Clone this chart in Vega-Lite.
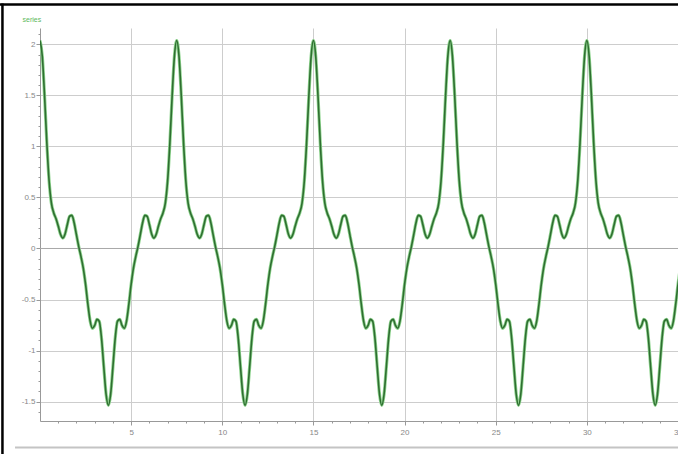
{
  "$schema": "https://vega.github.io/schema/vega-lite/v6.json",
  "width": 638,
  "height": 393,
  "autosize": {"type": "none"},
  "padding": {"left": 40, "top": 28, "right": 0, "bottom": 33},
  "background": "white",
  "config": {"view": {"stroke": null}, "font": "Liberation Sans"},
  "datasets": {
    "curve": [
      {"t":0,"v":2.037},{"t":0.125,"v":1.885},{"t":0.25,"v":1.496},{"t":0.375,"v":1.035},{"t":0.5,"v":0.661},{"t":0.625,"v":0.444},{"t":0.75,"v":0.35},{"t":0.875,"v":0.293},{"t":1,"v":0.22},{"t":1.125,"v":0.139},{"t":1.25,"v":0.102},{"t":1.375,"v":0.142},{"t":1.5,"v":0.235},{"t":1.625,"v":0.316},{"t":1.75,"v":0.324},{"t":1.875,"v":0.25},{"t":2,"v":0.133},{"t":2.125,"v":0.019},{"t":2.25,"v":-0.081},{"t":2.375,"v":-0.194},{"t":2.5,"v":-0.352},{"t":2.625,"v":-0.544},{"t":2.75,"v":-0.709},{"t":2.875,"v":-0.782},{"t":3,"v":-0.754},{"t":3.125,"v":-0.694},{"t":3.25,"v":-0.713},{"t":3.375,"v":-0.88},{"t":3.5,"v":-1.161},{"t":3.625,"v":-1.428},{"t":3.75,"v":-1.537},{"t":3.875,"v":-1.428},{"t":4,"v":-1.161},{"t":4.125,"v":-0.88},{"t":4.25,"v":-0.713},{"t":4.375,"v":-0.694},{"t":4.5,"v":-0.754},{"t":4.625,"v":-0.782},{"t":4.75,"v":-0.709},{"t":4.875,"v":-0.544},{"t":5,"v":-0.352},{"t":5.125,"v":-0.194},{"t":5.25,"v":-0.081},{"t":5.375,"v":0.019},{"t":5.5,"v":0.133},{"t":5.625,"v":0.25},{"t":5.75,"v":0.324},{"t":5.875,"v":0.316},{"t":6,"v":0.235},{"t":6.125,"v":0.142},{"t":6.25,"v":0.102},{"t":6.375,"v":0.139},{"t":6.5,"v":0.22},{"t":6.625,"v":0.293},{"t":6.75,"v":0.35},{"t":6.875,"v":0.444},{"t":7,"v":0.661},{"t":7.125,"v":1.035},{"t":7.25,"v":1.496},{"t":7.375,"v":1.885},
      {"t":7.5,"v":2.037},{"t":7.625,"v":1.885},{"t":7.75,"v":1.496},{"t":7.875,"v":1.035},{"t":8,"v":0.661},{"t":8.125,"v":0.444},{"t":8.25,"v":0.35},{"t":8.375,"v":0.293},{"t":8.5,"v":0.22},{"t":8.625,"v":0.139},{"t":8.75,"v":0.102},{"t":8.875,"v":0.142},{"t":9,"v":0.235},{"t":9.125,"v":0.316},{"t":9.25,"v":0.324},{"t":9.375,"v":0.25},{"t":9.5,"v":0.133},{"t":9.625,"v":0.019},{"t":9.75,"v":-0.081},{"t":9.875,"v":-0.194},{"t":10,"v":-0.352},{"t":10.125,"v":-0.544},{"t":10.25,"v":-0.709},{"t":10.375,"v":-0.782},{"t":10.5,"v":-0.754},{"t":10.625,"v":-0.694},{"t":10.75,"v":-0.713},{"t":10.875,"v":-0.88},{"t":11,"v":-1.161},{"t":11.125,"v":-1.428},{"t":11.25,"v":-1.537},{"t":11.375,"v":-1.428},{"t":11.5,"v":-1.161},{"t":11.625,"v":-0.88},{"t":11.75,"v":-0.713},{"t":11.875,"v":-0.694},{"t":12,"v":-0.754},{"t":12.125,"v":-0.782},{"t":12.25,"v":-0.709},{"t":12.375,"v":-0.544},{"t":12.5,"v":-0.352},{"t":12.625,"v":-0.194},{"t":12.75,"v":-0.081},{"t":12.875,"v":0.019},{"t":13,"v":0.133},{"t":13.125,"v":0.25},{"t":13.25,"v":0.324},{"t":13.375,"v":0.316},{"t":13.5,"v":0.235},{"t":13.625,"v":0.142},{"t":13.75,"v":0.102},{"t":13.875,"v":0.139},{"t":14,"v":0.22},{"t":14.125,"v":0.293},{"t":14.25,"v":0.35},{"t":14.375,"v":0.444},{"t":14.5,"v":0.661},{"t":14.625,"v":1.035},{"t":14.75,"v":1.496},{"t":14.875,"v":1.885},
      {"t":15,"v":2.037},{"t":15.125,"v":1.885},{"t":15.25,"v":1.496},{"t":15.375,"v":1.035},{"t":15.5,"v":0.661},{"t":15.625,"v":0.444},{"t":15.75,"v":0.35},{"t":15.875,"v":0.293},{"t":16,"v":0.22},{"t":16.125,"v":0.139},{"t":16.25,"v":0.102},{"t":16.375,"v":0.142},{"t":16.5,"v":0.235},{"t":16.625,"v":0.316},{"t":16.75,"v":0.324},{"t":16.875,"v":0.25},{"t":17,"v":0.133},{"t":17.125,"v":0.019},{"t":17.25,"v":-0.081},{"t":17.375,"v":-0.194},{"t":17.5,"v":-0.352},{"t":17.625,"v":-0.544},{"t":17.75,"v":-0.709},{"t":17.875,"v":-0.782},{"t":18,"v":-0.754},{"t":18.125,"v":-0.694},{"t":18.25,"v":-0.713},{"t":18.375,"v":-0.88},{"t":18.5,"v":-1.161},{"t":18.625,"v":-1.428},{"t":18.75,"v":-1.537},{"t":18.875,"v":-1.428},{"t":19,"v":-1.161},{"t":19.125,"v":-0.88},{"t":19.25,"v":-0.713},{"t":19.375,"v":-0.694},{"t":19.5,"v":-0.754},{"t":19.625,"v":-0.782},{"t":19.75,"v":-0.709},{"t":19.875,"v":-0.544},{"t":20,"v":-0.352},{"t":20.125,"v":-0.194},{"t":20.25,"v":-0.081},{"t":20.375,"v":0.019},{"t":20.5,"v":0.133},{"t":20.625,"v":0.25},{"t":20.75,"v":0.324},{"t":20.875,"v":0.316},{"t":21,"v":0.235},{"t":21.125,"v":0.142},{"t":21.25,"v":0.102},{"t":21.375,"v":0.139},{"t":21.5,"v":0.22},{"t":21.625,"v":0.293},{"t":21.75,"v":0.35},{"t":21.875,"v":0.444},{"t":22,"v":0.661},{"t":22.125,"v":1.035},{"t":22.25,"v":1.496},{"t":22.375,"v":1.885},
      {"t":22.5,"v":2.037},{"t":22.625,"v":1.885},{"t":22.75,"v":1.496},{"t":22.875,"v":1.035},{"t":23,"v":0.661},{"t":23.125,"v":0.444},{"t":23.25,"v":0.35},{"t":23.375,"v":0.293},{"t":23.5,"v":0.22},{"t":23.625,"v":0.139},{"t":23.75,"v":0.102},{"t":23.875,"v":0.142},{"t":24,"v":0.235},{"t":24.125,"v":0.316},{"t":24.25,"v":0.324},{"t":24.375,"v":0.25},{"t":24.5,"v":0.133},{"t":24.625,"v":0.019},{"t":24.75,"v":-0.081},{"t":24.875,"v":-0.194},{"t":25,"v":-0.352},{"t":25.125,"v":-0.544},{"t":25.25,"v":-0.709},{"t":25.375,"v":-0.782},{"t":25.5,"v":-0.754},{"t":25.625,"v":-0.694},{"t":25.75,"v":-0.713},{"t":25.875,"v":-0.88},{"t":26,"v":-1.161},{"t":26.125,"v":-1.428},{"t":26.25,"v":-1.537},{"t":26.375,"v":-1.428},{"t":26.5,"v":-1.161},{"t":26.625,"v":-0.88},{"t":26.75,"v":-0.713},{"t":26.875,"v":-0.694},{"t":27,"v":-0.754},{"t":27.125,"v":-0.782},{"t":27.25,"v":-0.709},{"t":27.375,"v":-0.544},{"t":27.5,"v":-0.352},{"t":27.625,"v":-0.194},{"t":27.75,"v":-0.081},{"t":27.875,"v":0.019},{"t":28,"v":0.133},{"t":28.125,"v":0.25},{"t":28.25,"v":0.324},{"t":28.375,"v":0.316},{"t":28.5,"v":0.235},{"t":28.625,"v":0.142},{"t":28.75,"v":0.102},{"t":28.875,"v":0.139},{"t":29,"v":0.22},{"t":29.125,"v":0.293},{"t":29.25,"v":0.35},{"t":29.375,"v":0.444},{"t":29.5,"v":0.661},{"t":29.625,"v":1.035},{"t":29.75,"v":1.496},{"t":29.875,"v":1.885},
      {"t":30,"v":2.037},{"t":30.125,"v":1.885},{"t":30.25,"v":1.496},{"t":30.375,"v":1.035},{"t":30.5,"v":0.661},{"t":30.625,"v":0.444},{"t":30.75,"v":0.35},{"t":30.875,"v":0.293},{"t":31,"v":0.22},{"t":31.125,"v":0.139},{"t":31.25,"v":0.102},{"t":31.375,"v":0.142},{"t":31.5,"v":0.235},{"t":31.625,"v":0.316},{"t":31.75,"v":0.324},{"t":31.875,"v":0.25},{"t":32,"v":0.133},{"t":32.125,"v":0.019},{"t":32.25,"v":-0.081},{"t":32.375,"v":-0.194},{"t":32.5,"v":-0.352},{"t":32.625,"v":-0.544},{"t":32.75,"v":-0.709},{"t":32.875,"v":-0.782},{"t":33,"v":-0.754},{"t":33.125,"v":-0.694},{"t":33.25,"v":-0.713},{"t":33.375,"v":-0.88},{"t":33.5,"v":-1.161},{"t":33.625,"v":-1.428},{"t":33.75,"v":-1.537},{"t":33.875,"v":-1.428},{"t":34,"v":-1.161},{"t":34.125,"v":-0.88},{"t":34.25,"v":-0.713},{"t":34.375,"v":-0.694},{"t":34.5,"v":-0.754},{"t":34.625,"v":-0.782},{"t":34.75,"v":-0.709},{"t":34.875,"v":-0.544},{"t":35,"v":-0.352},{"t":35.125,"v":-0.194}
    ]
  },
  "resolve": {"axis": {"x": "independent", "y": "independent"}},
  "layer": [
    {
      "data": {"name": "curve"},
      "mark": {"type": "line", "opacity": 0},
      "encoding": {
        "x": {"field": "t", "type": "quantitative", "scale": {"domain": [0, 35], "nice": false, "zero": false},
          "axis": {"orient": "bottom", "values": [1,2,3,4,6,7,8,9,11,12,13,14,16,17,18,19,21,22,23,24,26,27,28,29,31,32,33,34], "labels": false, "grid": false, "domain": false, "tickSize": 2, "tickColor": "#999", "title": null}},
        "y": {"field": "v", "type": "quantitative", "scale": {"domain": [-1.69, 2.16], "nice": false, "zero": false},
          "axis": {"orient": "left", "values": [-1.6,-1.4,-1.3,-1.2,-1.1,-0.9,-0.8,-0.7,-0.6,-0.4,-0.3,-0.2,-0.1,0.1,0.2,0.3,0.4,0.6,0.7,0.8,0.9,1.1,1.2,1.3,1.4,1.6,1.7,1.8,1.9,2.1], "labels": false, "grid": false, "domain": false, "tickSize": 2, "tickColor": "#999", "title": null}}
      }
    },
    {
      "data": {"name": "curve"},
      "mark": {"type": "line", "color": "#8fd48f", "strokeWidth": 3.2, "interpolate": "monotone", "clip": true},
      "encoding": {
        "x": {"field": "t", "type": "quantitative", "scale": {"domain": [0, 35], "nice": false, "zero": false},
          "axis": {"orient": "bottom", "values": [5,10,15,20,25,30,35], "grid": true, "gridColor": "#cdcdcd", "gridWidth": 1, "domainColor": "#999", "tickColor": "#999", "tickSize": 4, "labelFontSize": 8, "labelColor": "#888", "labelPadding": 3, "labelFlush": false, "labelExpr": "'' + datum.value", "title": null}},
        "y": {"field": "v", "type": "quantitative", "scale": {"domain": [-1.69, 2.16], "nice": false, "zero": false},
          "axis": {"orient": "left", "values": [-1.5,-1,-0.5,0,0.5,1,1.5,2], "grid": true, "gridColor": "#cdcdcd", "gridWidth": 1, "domainColor": "#999", "tickColor": "#999", "tickSize": 4, "labelFontSize": 8, "labelColor": "#888", "labelPadding": 1, "labelFlush": false, "labelExpr": "'' + datum.value",
            "title": "series", "titleAngle": 0, "titleX": -18, "titleY": -9, "titleAlign": "left", "titleBaseline": "middle", "titleFontSize": 7, "titleFontWeight": "normal", "titleColor": "#5cb85c"}}
      }
    },
    {
      "data": {"values": [{}]},
      "mark": {"type": "rule", "color": "#a8a8a8", "strokeWidth": 1},
      "encoding": {"y": {"datum": 0, "type": "quantitative", "axis": null}}
    },
    {
      "data": {"name": "curve"},
      "mark": {"type": "line", "color": "#2f6e31", "strokeWidth": 1.6, "interpolate": "monotone", "clip": true},
      "encoding": {
        "x": {"field": "t", "type": "quantitative", "axis": null},
        "y": {"field": "v", "type": "quantitative", "axis": null}
      }
    },
    {
      "data": {"values": [{}]},
      "mark": {"type": "rule", "color": "#000000", "strokeWidth": 2.5},
      "encoding": {
        "x": {"datum": -2.06, "type": "quantitative", "axis": null},
        "y": {"datum": 2.4, "type": "quantitative", "axis": null},
        "y2": {"datum": -2.05}
      }
    },
    {
      "data": {"values": [{}]},
      "mark": {"type": "rule", "color": "#000000", "strokeWidth": 2.5},
      "encoding": {
        "x": {"datum": -2.2, "type": "quantitative", "axis": null},
        "x2": {"datum": 35.2},
        "y": {"datum": 2.39, "type": "quantitative", "axis": null}
      }
    },
    {
      "data": {"values": [{}]},
      "mark": {"type": "rule", "color": "#c4c4c4", "strokeWidth": 2},
      "encoding": {
        "x": {"datum": -1.37, "type": "quantitative", "axis": null},
        "x2": {"datum": 35.2},
        "y": {"datum": -1.95, "type": "quantitative", "axis": null}
      }
    }
  ]
}
